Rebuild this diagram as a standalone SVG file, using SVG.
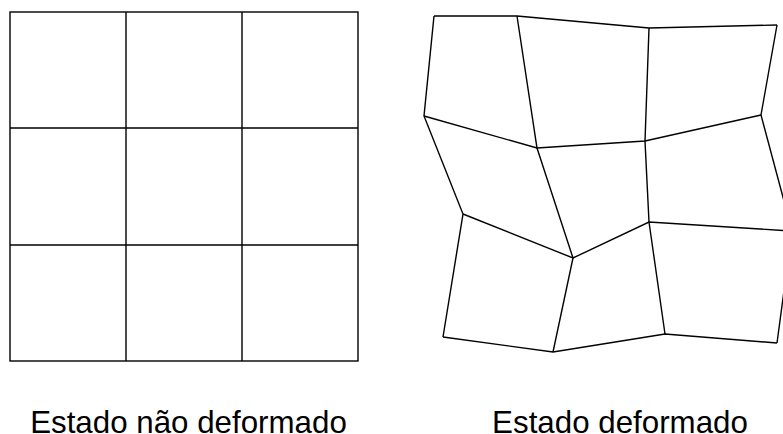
<svg xmlns="http://www.w3.org/2000/svg" width="783" height="434" viewBox="0 0 783 434">
<style>
.g{fill:none;stroke:#000;stroke-width:1.4;stroke-linejoin:miter}
.t{font-family:"Liberation Sans",Arial,sans-serif;font-size:31.3px;fill:#000;text-anchor:middle}
</style>
<rect width="783" height="434" fill="#fff"/>
<g id="undeformed">
<rect class="g" x="10" y="12" width="348" height="349"/>
<path class="g" d="M126 12V361M242 12V361M10 128H358M10 245H358"/>
</g>
<g id="deformed">
<path class="g" d="M434 16L517 16L649 28L777 25"/>
<path class="g" d="M424 116L537 148L645 141L761 115"/>
<path class="g" d="M463 214L573 258L649 222L792 231"/>
<path class="g" d="M443 337L553 352L665 334L777 343"/>
<path class="g" d="M434 16L424 116L463 214L443 337"/>
<path class="g" d="M517 16L537 148L573 258L553 352"/>
<path class="g" d="M649 28L645 141L649 222L665 334"/>
<path class="g" d="M777 25L761 115L792 231L777 343"/>
</g>
<text class="t" x="188.5" y="432.5">Estado não deformado</text>
<text class="t" x="620" y="432.5">Estado deformado</text>
</svg>
